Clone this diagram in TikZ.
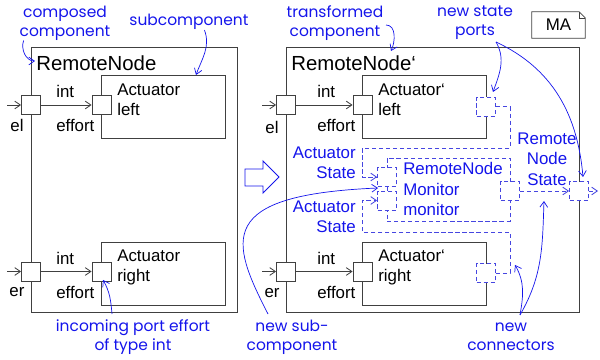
\documentclass[tikz,border=0pt]{standalone}
\usepackage{fontspec}
\setmainfont{Liberation Sans}
\newfontfamily\notefont{Poppins}
\usetikzlibrary{arrows.meta,fit}
\definecolor{noteblue}{RGB}{20,20,235}
\definecolor{newblue}{RGB}{70,70,225}

\tikzset{
  box/.style={draw=black!75, line width=0.6pt, inner sep=0pt},
  newbox/.style={draw=newblue, line width=0.6pt, densely dashed, inner sep=0pt},
  port/.style={draw=black!75, line width=0.6pt, fill=white, minimum size=13.5pt, inner sep=0pt},
  newport/.style={draw=newblue, line width=0.6pt, densely dashed, fill=white, minimum size=13.5pt, inner sep=0pt},
  txt/.style={font=\fontsize{12}{14.2}\selectfont, inner sep=0pt, align=left},
  ttl/.style={font=\fontsize{14.5}{17}\selectfont, inner sep=0pt, anchor=west},
  newtxt/.style={txt, text=noteblue},
  note/.style={font=\notefont\fontsize{11}{13.5}\selectfont, text=noteblue, align=center, inner sep=0pt},
  flow/.style={draw=black!75, line width=0.6pt, -{Straight Barb[length=4pt,width=5.5pt]}},
  newflow/.style={draw=newblue, line width=0.6pt, densely dashed, -{Straight Barb[length=4pt,width=5.5pt]}},
  hint/.style={draw=noteblue, line width=0.5pt, -{Straight Barb[length=4pt,width=5.5pt]}},
}

\begin{document}
\begin{tikzpicture}[x=0.025cm, y=-0.025cm]
  \useasboundingbox (0,0) rectangle (600,360);

  % composed component
  \node[box, fit={(31,47) (237,312)}] (rn) {};
  \node[ttl] (rnttl) at (36,63) {RemoteNode};
  \node[box, fit={(101,75) (225,138)}] (actl) {};
  \node[txt, anchor=west] (actltxt) at (117,100) {Actuator\\left};
  \node[box, fit={(101,242) (225,305)}] (actr) {};
  \node[txt, anchor=west] (actrtxt) at (117,267) {Actuator\\right};
  \node[port] (el) at (31,105) {};
  \node[port] (effl) at (101.5,105) {};
  \node[port] (er) at (31,271.5) {};
  \node[port] (effr) at (101.5,271.5) {};
  \coordinate (inl) at (7,105);
  \coordinate (inr) at (7,271.5);
  \draw[flow] (inl) -- (el);
  \draw[flow] (el) -- (effl);
  \draw[flow] (inr) -- (er);
  \draw[flow] (er) -- (effr);
  \node[txt, anchor=west] (intl) at (56,91) {int};
  \node[txt, anchor=west] (effltxt) at (56,125) {effort};
  \node[txt] (eltxt) at (17,125) {el};
  \node[txt, anchor=west] (intr) at (56,258) {int};
  \node[txt, anchor=west] (effrtxt) at (56,292) {effort};
  \node[txt] (ertxt) at (17,292) {er};

  % transformation arrow
  \draw[noteblue, line width=0.6pt] (245,169) -- (263,169) -- (263,161) -- (279,177)
    -- (263,193) -- (263,186) -- (245,186) -- cycle;

  % transformed component
  \node[box, fit={(286,47) (579,312)}] (rn2) {};
  \node[ttl] (rn2ttl) at (291,63) {RemoteNode‘};
  \node[box, fit={(362,75) (486,138)}] (actl2) {};
  \node[txt, anchor=west] (actl2txt) at (378,100) {Actuator‘\\left};
  \node[box, fit={(362,242) (486,305)}] (actr2) {};
  \node[txt, anchor=west] (actr2txt) at (378,267) {Actuator‘\\right};
  \node[port] (el2) at (286,105) {};
  \node[port] (effl2) at (362.5,105) {};
  \node[port] (er2) at (286,271.5) {};
  \node[port] (effr2) at (362.5,271.5) {};
  \coordinate (inl2) at (262,105);
  \coordinate (inr2) at (262,271.5);
  \draw[flow] (inl2) -- (el2);
  \draw[flow] (el2) -- (effl2);
  \draw[flow] (inr2) -- (er2);
  \draw[flow] (er2) -- (effr2);
  \node[txt, anchor=west] (intl2) at (317,91) {int};
  \node[txt, anchor=west] (effl2txt) at (317,125) {effort};
  \node[txt] (el2txt) at (272,127) {el};
  \node[txt, anchor=west] (intr2) at (317,258) {int};
  \node[txt, anchor=west] (effr2txt) at (317,292) {effort};
  \node[txt] (er2txt) at (272,293) {er};

  % new monitor and state ports
  \node[newbox, fit={(387,158) (510,221)}] (mon) {};
  \node[newtxt, anchor=west, font=\fontsize{12}{14.6}\selectfont] (montxt) at (403,189) {RemoteNode\\Monitor\\monitor};
  \node[newport] (mp1) at (387,177) {};
  \node[newport] (mp2) at (387,200.5) {};
  \node[newport] (msp) at (510,191) {};
  \node[newport] (stl) at (486,106.5) {};
  \node[newport] (str) at (486,273) {};
  \node[newport] (osp) at (579,191) {};
  \coordinate (ca) at (510,148);
  \coordinate (cb) at (362,148);
  \coordinate (cc) at (510,232);
  \coordinate (cd) at (362,232);
  \coordinate (outs) at (598,191);
  \draw[newflow] (stl.east) -| (ca) -- (cb) |- (mp1.west);
  \draw[newflow] (str.east) -| (cc) -- (cd) |- (mp2.west);
  \draw[newflow] (msp) -- (osp);
  \draw[newflow] (osp) -- (outs);
  \node[newtxt, align=right, anchor=east] (ast1) at (356,163) {Actuator\\State};
  \node[newtxt, align=right, anchor=east] (ast2) at (356,217) {Actuator\\State};
  \node[newtxt, align=center, font=\fontsize{12}{14.6}\selectfont] (rns) at (547,159) {Remote\\Node\\State};

  % model name
  \node[txt, minimum width=37.6pt, minimum height=18.4pt, align=center] (ma) at (558.5,25) {MA};
  \draw[black!75, line width=0.6pt] (ma.north west) -- ([xshift=-4.3pt]ma.north east)
    -- ([yshift=-4.3pt]ma.north east) -- (ma.south east) -- (ma.south west) -- cycle;
  \draw[black!75, line width=0.4pt] ([xshift=-4.3pt]ma.north east) -- ([xshift=-4.3pt,yshift=-4.3pt]ma.north east)
    -- ([yshift=-4.3pt]ma.north east);

  % annotations
  \node[note] (ccnote) at (65,23) {composed\\component};
  \node[note] (subnote) at (189,22) {subcomponent};
  \node[note] (incnote) at (133,337) {incoming port effort\\of type int};
  \node[note] (tcnote) at (335,23) {transformed\\component};
  \node[note] (nspnote) at (475,23) {new state\\ports};
  \node[note] (ncnote) at (511,337) {new\\connectors};
  \node[note] (nscnote) at (292,337) {new sub-\\component};
  \coordinate (cctip) at (35,61);
  \coordinate (subtip) at (196,75);
  \coordinate (inctip) at (103,280);
  \coordinate (tctip) at (391,51);
  \coordinate (nspfoot) at (496,42);
  \coordinate (nsptip1) at (493,92);
  \coordinate (nsptip2) at (583,177);
  \coordinate (nctip1) at (515,265);
  \coordinate (nctip2) at (544,201);
  \coordinate (nsctip) at (378,188);
  \draw[hint] ([xshift=3pt]ccnote.south west) to[out=-110, in=180] (cctip);
  \draw[hint] ([xshift=11pt]subnote.south) to[out=-70, in=70] (subtip);
  \draw[hint] (112,314) to[out=95, in=-60] (inctip);
  \draw[hint] (386,25) to[out=0, in=65] (tctip);
  \draw[hint] (nspfoot) to[out=-60, in=70] (nsptip1);
  \draw[hint] (nspfoot) to[out=-25, in=95] (nsptip2);
  \draw[hint] (520,315) to[out=80, in=-60] (nctip1);
  \draw[hint] (520,315) to[out=60, in=-92] (nctip2);
  \draw[hint] (268,314) .. controls (230,240) and (215,195) .. (nsctip);
\end{tikzpicture}
\end{document}
